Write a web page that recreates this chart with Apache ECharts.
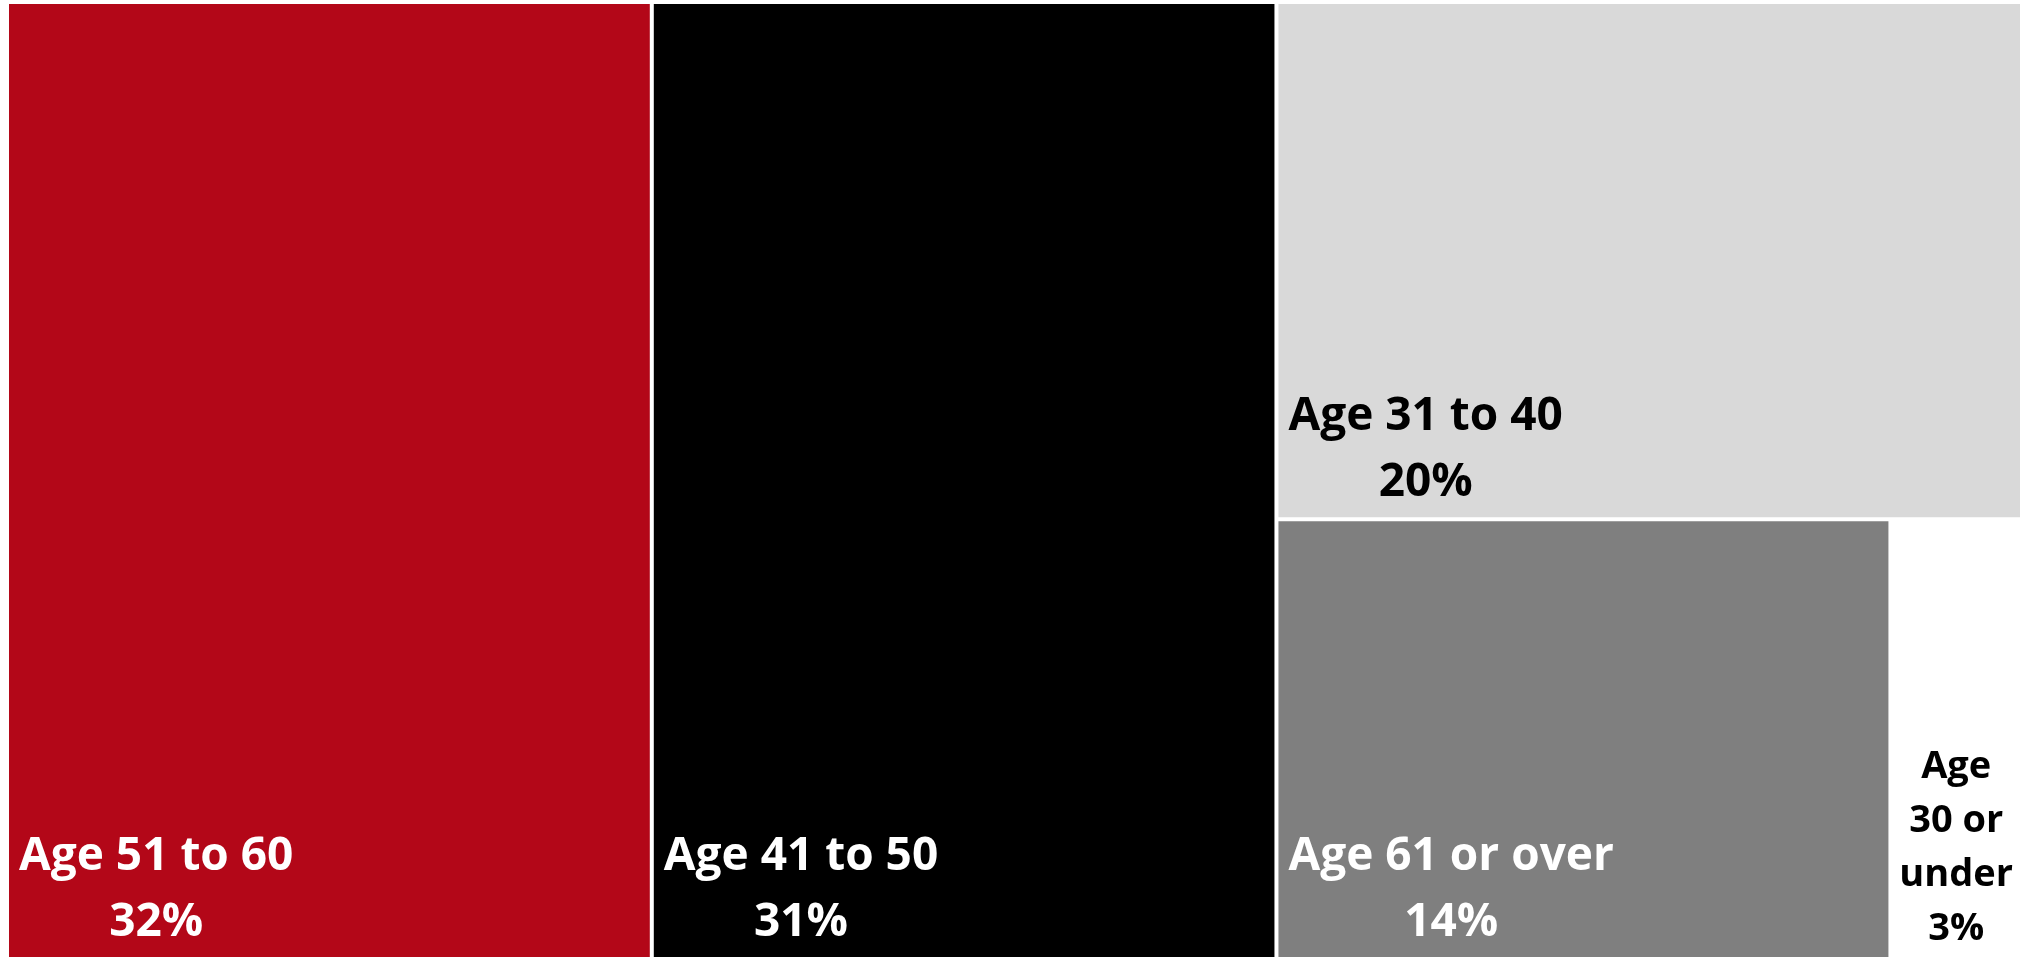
<!DOCTYPE html>
<html>
<head>
<meta charset="utf-8">
<script src="https://cdn.jsdelivr.net/npm/echarts@6/dist/echarts.min.js"></script>
<style>
  html, body { margin: 0; padding: 0; background: #ffffff; }
  #chart { width: 2023px; height: 957px; }
</style>
</head>
<body>
<div id="chart"></div>
<script>
// Age bands and their share of the total (%)
const categories = ['Age 51 to 60', 'Age 41 to 50', 'Age 31 to 40', 'Age 61 or over', 'Age 30 or under'];
const shares = [32, 31, 20, 14, 3];
const fillColors = ['#B30718', '#000000', '#D9D9D9', '#7F7F7F', '#FFFFFF'];
const labelColors = ['#FFFFFF', '#FFFFFF', '#000000', '#FFFFFF', '#000000'];

const FONT_FAMILY = '"Open Sans", "Liberation Sans", sans-serif';
const BIG_FONT = 46;
const BIG_LINE = 66;
const SMALL_FONT = 38;
const SMALL_LINE = 54;
const PAD_LEFT = 10;
const PAD_BOTTOM = 1;

const measureCtx = document.createElement('canvas').getContext('2d');
function textWidth(str, size) {
  measureCtx.font = 'bold ' + size + 'px ' + FONT_FAMILY;
  return measureCtx.measureText(str).width;
}

// greedy word wrap used for the narrow cells
function wrapWords(text, maxChars) {
  const lines = [];
  let cur = '';
  text.split(' ').forEach(function (w) {
    if (!cur) cur = w;
    else if ((cur + ' ' + w).length <= maxChars) cur += ' ' + w;
    else { lines.push(cur); cur = w; }
  });
  if (cur) lines.push(cur);
  return lines;
}

const isCompact = shares.map(function (v) { return v < 5; });

const treeData = categories.map(function (name, i) {
  return {
    name: name,
    value: shares[i],
    itemStyle: { color: fillColors[i] },
    label: {
      color: labelColors[i],
      fontSize: isCompact[i] ? SMALL_FONT : BIG_FONT,
      lineHeight: isCompact[i] ? SMALL_LINE : BIG_LINE
    }
  };
});

const chart = echarts.init(document.getElementById('chart'), null, { renderer: 'canvas' });

chart.setOption({
  animation: false,
  backgroundColor: '#ffffff',
  series: [{
    type: 'treemap',
    left: 9,
    top: 4,
    right: 3,
    bottom: 0,
    squareRatio: 1,
    roam: false,
    nodeClick: false,
    breadcrumb: { show: false },
    emphasis: { disabled: true },
    levels: [
      { itemStyle: { gapWidth: 4, borderWidth: 0, borderColor: '#ffffff' } },
      { itemStyle: { borderWidth: 0, gapWidth: 0 } }
    ],
    label: {
      show: true,
      padding: 0,
      fontFamily: FONT_FAMILY,
      fontWeight: 'bold',
      overflow: 'none',
      formatter: function (p) {
        const idx = categories.indexOf(p.name);
        const head = (idx >= 0 && isCompact[idx]) ? wrapWords(p.name, 5).join('\n') : p.name;
        return head + '\n' + p.value + '%';
      }
    },
    labelLayout: function (p) {
      const lines = String(p.text || '').split('\n');
      const compact = lines.length > 2;
      let x;
      if (compact) {
        x = p.rect.x + p.rect.width / 2;
      } else {
        const w = Math.max.apply(null, lines.map(function (l) { return textWidth(l, BIG_FONT); }));
        x = p.rect.x + PAD_LEFT + w / 2;
      }
      return {
        x: x,
        y: p.rect.y + p.rect.height - PAD_BOTTOM,
        align: 'center',
        verticalAlign: 'bottom'
      };
    },
    data: treeData
  }]
});
</script>
</body>
</html>
